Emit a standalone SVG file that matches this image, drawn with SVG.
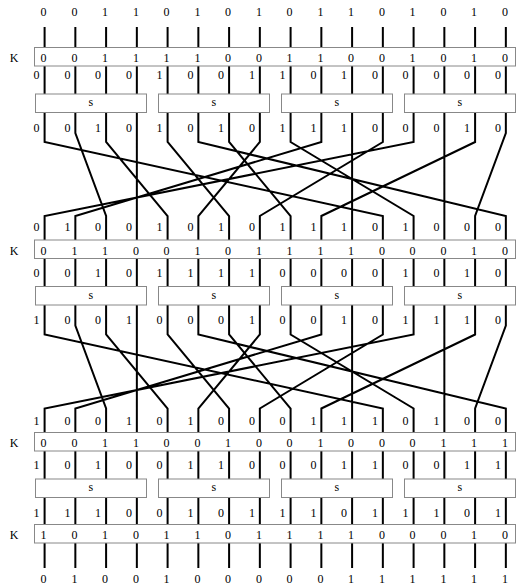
<svg xmlns="http://www.w3.org/2000/svg" width="517" height="587" viewBox="0 0 517 587">
<style>
text{font-family:"Liberation Serif","Times New Roman",serif;font-size:12px;fill:#000}
.c text{text-anchor:middle}
.e text{text-anchor:end}
.box{fill:#fff;stroke:#888;stroke-width:1}
.w{fill:none;stroke:#000;stroke-width:2;stroke-linejoin:miter}
</style>
<rect width="517" height="587" fill="#fff"/>
<g id="wires" class="w">
<path d="M44.6 27V47.5M75.35 27V47.5M106.1 27V47.5M136.85 27V47.5M167.6 27V47.5M198.35 27V47.5M229.1 27V47.5M259.85 27V47.5M290.6 27V47.5M321.35 27V47.5M352.1 27V47.5M382.85 27V47.5M413.6 27V47.5M444.35 27V47.5M475.1 27V47.5M505.85 27V47.5"/>
<path d="M44.6 66V94M75.35 66V94M106.1 66V94M136.85 66V94M167.6 66V94M198.35 66V94M229.1 66V94M259.85 66V94M290.6 66V94M321.35 66V94M352.1 66V94M382.85 66V94M413.6 66V94M444.35 66V94M475.1 66V94M505.85 66V94"/>
<path d="M44.6 112.5V142L382.85 216V240M75.35 112.5V133L106.1 216V240M106.1 112.5V142L167.6 216V240M136.85 112.5V240M167.6 112.5V142L229.1 216V240M198.35 112.5V142L505.85 216V240M229.1 112.5V142L290.6 216V240M259.85 112.5V142L198.35 216V240M290.6 112.5V142L413.6 216V240M321.35 112.5V142L75.35 216V240M352.1 112.5V240M382.85 112.5V142L259.85 216V240M413.6 112.5V142L44.6 216V240M444.35 112.5V240M475.1 112.5V142L321.35 216V240M505.85 112.5V133L475.1 216V240"/>
<path d="M44.6 258.5V286.5M75.35 258.5V286.5M106.1 258.5V286.5M136.85 258.5V286.5M167.6 258.5V286.5M198.35 258.5V286.5M229.1 258.5V286.5M259.85 258.5V286.5M290.6 258.5V286.5M321.35 258.5V286.5M352.1 258.5V286.5M382.85 258.5V286.5M413.6 258.5V286.5M444.35 258.5V286.5M475.1 258.5V286.5M505.85 258.5V286.5"/>
<path d="M44.6 305V334.5L382.85 408.5V432.5M75.35 305V325.5L106.1 408.5V432.5M106.1 305V334.5L167.6 408.5V432.5M136.85 305V432.5M167.6 305V334.5L229.1 408.5V432.5M198.35 305V334.5L505.85 408.5V432.5M229.1 305V334.5L290.6 408.5V432.5M259.85 305V334.5L198.35 408.5V432.5M290.6 305V334.5L413.6 408.5V432.5M321.35 305V334.5L75.35 408.5V432.5M352.1 305V432.5M382.85 305V334.5L259.85 408.5V432.5M413.6 305V334.5L44.6 408.5V432.5M444.35 305V432.5M475.1 305V334.5L321.35 408.5V432.5M505.85 305V325.5L475.1 408.5V432.5"/>
<path d="M44.6 451V479M75.35 451V479M106.1 451V479M136.85 451V479M167.6 451V479M198.35 451V479M229.1 451V479M259.85 451V479M290.6 451V479M321.35 451V479M352.1 451V479M382.85 451V479M413.6 451V479M444.35 451V479M475.1 451V479M505.85 451V479"/>
<path d="M44.6 497.5V524.5M75.35 497.5V524.5M106.1 497.5V524.5M136.85 497.5V524.5M167.6 497.5V524.5M198.35 497.5V524.5M229.1 497.5V524.5M259.85 497.5V524.5M290.6 497.5V524.5M321.35 497.5V524.5M352.1 497.5V524.5M382.85 497.5V524.5M413.6 497.5V524.5M444.35 497.5V524.5M475.1 497.5V524.5M505.85 497.5V524.5"/>
<path d="M44.6 543V568M75.35 543V568M106.1 543V568M136.85 543V568M167.6 543V568M198.35 543V568M229.1 543V568M259.85 543V568M290.6 543V568M321.35 543V568M352.1 543V568M382.85 543V568M413.6 543V568M444.35 543V568M475.1 543V568M505.85 543V568"/>
</g>
<g id="input" class="c" transform="translate(0,16.3)"><text x="43.6">0</text><text x="74.4">0</text><text x="105.1">1</text><text x="135.9">1</text><text x="166.6">0</text><text x="197.4">1</text><text x="228.1">0</text><text x="258.9">1</text><text x="289.6">0</text><text x="320.4">1</text><text x="351.1">1</text><text x="381.9">0</text><text x="412.6">1</text><text x="443.4">0</text><text x="474.1">1</text><text x="504.9">0</text></g>
<g id="k1"><rect class="box" x="34.5" y="47.5" width="481" height="18.5"/><text x="14" y="62" text-anchor="middle">K</text><g class="c" transform="translate(0,62)"><text x="43.6">0</text><text x="74.4">0</text><text x="105.1">1</text><text x="135.9">1</text><text x="166.6">1</text><text x="197.4">1</text><text x="228.1">0</text><text x="258.9">0</text><text x="289.6">1</text><text x="320.4">1</text><text x="351.1">0</text><text x="381.9">0</text><text x="412.6">1</text><text x="443.4">0</text><text x="474.1">1</text><text x="504.9">0</text></g></g>
<g id="x1" class="e" transform="translate(0,79)"><text x="39.6">0</text><text x="70.4">0</text><text x="101.1">0</text><text x="131.9">0</text><text x="162.6">1</text><text x="193.4">0</text><text x="224.1">0</text><text x="254.9">1</text><text x="285.6">1</text><text x="316.4">0</text><text x="347.1">1</text><text x="377.9">0</text><text x="408.6">0</text><text x="439.4">0</text><text x="470.1">0</text><text x="500.9">0</text></g>
<g id="s1a"><rect class="box" x="35.5" y="94" width="111" height="18.5"/><text x="90.8" y="106" text-anchor="middle">s</text></g>
<g id="s1b"><rect class="box" x="158.5" y="94" width="111" height="18.5"/><text x="213.8" y="106" text-anchor="middle">s</text></g>
<g id="s1c"><rect class="box" x="281.5" y="94" width="111" height="18.5"/><text x="336.8" y="106" text-anchor="middle">s</text></g>
<g id="s1d"><rect class="box" x="404.5" y="94" width="111" height="18.5"/><text x="459.8" y="106" text-anchor="middle">s</text></g>
<g id="y1" class="e" transform="translate(0,131.5)"><text x="39.6">0</text><text x="70.4">0</text><text x="101.1">1</text><text x="131.9">0</text><text x="162.6">1</text><text x="193.4">0</text><text x="224.1">1</text><text x="254.9">0</text><text x="285.6">1</text><text x="316.4">1</text><text x="347.1">1</text><text x="377.9">0</text><text x="408.6">0</text><text x="439.4">0</text><text x="470.1">1</text><text x="500.9">0</text></g>
<g id="p1" class="e" transform="translate(0,230.5)"><text x="39.6">0</text><text x="70.4">1</text><text x="101.1">0</text><text x="131.9">0</text><text x="162.6">1</text><text x="193.4">0</text><text x="224.1">1</text><text x="254.9">0</text><text x="285.6">1</text><text x="316.4">1</text><text x="347.1">1</text><text x="377.9">0</text><text x="408.6">1</text><text x="439.4">0</text><text x="470.1">0</text><text x="500.9">0</text></g>
<g id="k2"><rect class="box" x="34.5" y="240" width="481" height="18.5"/><text x="14" y="254.5" text-anchor="middle">K</text><g class="c" transform="translate(0,254.5)"><text x="43.6">0</text><text x="74.4">1</text><text x="105.1">1</text><text x="135.9">0</text><text x="166.6">0</text><text x="197.4">1</text><text x="228.1">0</text><text x="258.9">1</text><text x="289.6">1</text><text x="320.4">1</text><text x="351.1">1</text><text x="381.9">0</text><text x="412.6">0</text><text x="443.4">0</text><text x="474.1">1</text><text x="504.9">0</text></g></g>
<g id="x2" class="e" transform="translate(0,276.7)"><text x="39.6">0</text><text x="70.4">0</text><text x="101.1">1</text><text x="131.9">0</text><text x="162.6">1</text><text x="193.4">1</text><text x="224.1">1</text><text x="254.9">1</text><text x="285.6">0</text><text x="316.4">0</text><text x="347.1">0</text><text x="377.9">0</text><text x="408.6">1</text><text x="439.4">0</text><text x="470.1">1</text><text x="500.9">0</text></g>
<g id="s2a"><rect class="box" x="35.5" y="286.5" width="111" height="18.5"/><text x="90.8" y="298.5" text-anchor="middle">s</text></g>
<g id="s2b"><rect class="box" x="158.5" y="286.5" width="111" height="18.5"/><text x="213.8" y="298.5" text-anchor="middle">s</text></g>
<g id="s2c"><rect class="box" x="281.5" y="286.5" width="111" height="18.5"/><text x="336.8" y="298.5" text-anchor="middle">s</text></g>
<g id="s2d"><rect class="box" x="404.5" y="286.5" width="111" height="18.5"/><text x="459.8" y="298.5" text-anchor="middle">s</text></g>
<g id="y2" class="e" transform="translate(0,323.5)"><text x="39.6">1</text><text x="70.4">0</text><text x="101.1">0</text><text x="131.9">1</text><text x="162.6">0</text><text x="193.4">0</text><text x="224.1">0</text><text x="254.9">1</text><text x="285.6">0</text><text x="316.4">0</text><text x="347.1">1</text><text x="377.9">0</text><text x="408.6">1</text><text x="439.4">1</text><text x="470.1">1</text><text x="500.9">0</text></g>
<g id="p2" class="e" transform="translate(0,424.5)"><text x="39.6">1</text><text x="70.4">0</text><text x="101.1">0</text><text x="131.9">1</text><text x="162.6">0</text><text x="193.4">1</text><text x="224.1">0</text><text x="254.9">0</text><text x="285.6">0</text><text x="316.4">1</text><text x="347.1">1</text><text x="377.9">1</text><text x="408.6">0</text><text x="439.4">1</text><text x="470.1">0</text><text x="500.9">0</text></g>
<g id="k3"><rect class="box" x="34.5" y="432.5" width="481" height="18.5"/><text x="14" y="447" text-anchor="middle">K</text><g class="c" transform="translate(0,447)"><text x="43.6">0</text><text x="74.4">0</text><text x="105.1">1</text><text x="135.9">1</text><text x="166.6">0</text><text x="197.4">0</text><text x="228.1">1</text><text x="258.9">0</text><text x="289.6">0</text><text x="320.4">1</text><text x="351.1">0</text><text x="381.9">0</text><text x="412.6">0</text><text x="443.4">1</text><text x="474.1">1</text><text x="504.9">1</text></g></g>
<g id="x3" class="e" transform="translate(0,468.5)"><text x="39.6">1</text><text x="70.4">0</text><text x="101.1">1</text><text x="131.9">0</text><text x="162.6">0</text><text x="193.4">1</text><text x="224.1">1</text><text x="254.9">0</text><text x="285.6">0</text><text x="316.4">0</text><text x="347.1">1</text><text x="377.9">1</text><text x="408.6">0</text><text x="439.4">0</text><text x="470.1">1</text><text x="500.9">1</text></g>
<g id="s3a"><rect class="box" x="35.5" y="479" width="111" height="18.5"/><text x="90.8" y="491" text-anchor="middle">s</text></g>
<g id="s3b"><rect class="box" x="158.5" y="479" width="111" height="18.5"/><text x="213.8" y="491" text-anchor="middle">s</text></g>
<g id="s3c"><rect class="box" x="281.5" y="479" width="111" height="18.5"/><text x="336.8" y="491" text-anchor="middle">s</text></g>
<g id="s3d"><rect class="box" x="404.5" y="479" width="111" height="18.5"/><text x="459.8" y="491" text-anchor="middle">s</text></g>
<g id="y3" class="e" transform="translate(0,516.5)"><text x="39.6">1</text><text x="70.4">1</text><text x="101.1">1</text><text x="131.9">0</text><text x="162.6">0</text><text x="193.4">1</text><text x="224.1">0</text><text x="254.9">1</text><text x="285.6">1</text><text x="316.4">1</text><text x="347.1">0</text><text x="377.9">1</text><text x="408.6">1</text><text x="439.4">1</text><text x="470.1">0</text><text x="500.9">1</text></g>
<g id="k4"><rect class="box" x="34.5" y="524.5" width="481" height="18.5"/><text x="14" y="539" text-anchor="middle">K</text><g class="c" transform="translate(0,539)"><text x="43.6">1</text><text x="74.4">0</text><text x="105.1">1</text><text x="135.9">0</text><text x="166.6">1</text><text x="197.4">1</text><text x="228.1">0</text><text x="258.9">1</text><text x="289.6">1</text><text x="320.4">1</text><text x="351.1">1</text><text x="381.9">0</text><text x="412.6">0</text><text x="443.4">0</text><text x="474.1">1</text><text x="504.9">0</text></g></g>
<g id="output" class="c" transform="translate(0,583)"><text x="43.6">0</text><text x="74.4">1</text><text x="105.1">0</text><text x="135.9">0</text><text x="166.6">1</text><text x="197.4">0</text><text x="228.1">0</text><text x="258.9">0</text><text x="289.6">0</text><text x="320.4">0</text><text x="351.1">1</text><text x="381.9">1</text><text x="412.6">1</text><text x="443.4">1</text><text x="474.1">1</text><text x="504.9">1</text></g>
</svg>
